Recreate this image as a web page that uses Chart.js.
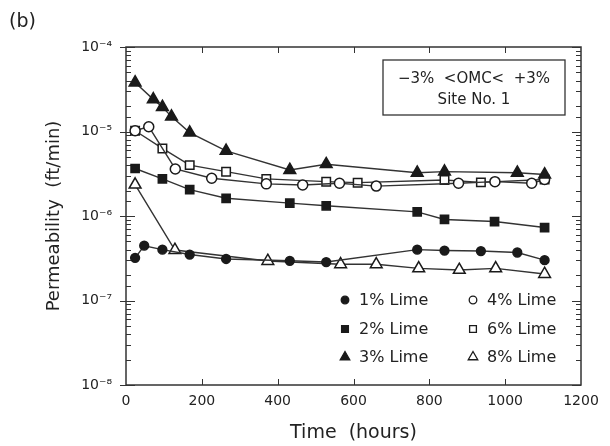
<!DOCTYPE html>
<html>
<head>
<meta charset="utf-8">
<script src="https://cdn.jsdelivr.net/npm/chart.js@4.4.1/dist/chart.umd.min.js"></script>
<style>
  html, body { margin: 0; padding: 0; background: #fff; }
  #wrap { position: relative; width: 610px; height: 446px; }
</style>
</head>
<body>
<div id="wrap"><canvas id="c" width="610" height="446"></canvas></div>
<script>
// Permeability of lime-treated soil over time, one series per lime content
const seriesLabels = ['1% Lime', '2% Lime', '3% Lime', '4% Lime', '6% Lime', '8% Lime'];

const hours1 = [24, 48, 96, 168, 264, 432, 528, 768, 840, 936, 1032, 1104];
const perm1  = [3.2e-7, 4.45e-7, 4.0e-7, 3.5e-7, 3.1e-7, 2.95e-7, 2.85e-7, 4.0e-7, 3.9e-7, 3.85e-7, 3.7e-7, 3.0e-7];

const hours2 = [24, 96, 168, 264, 432, 528, 768, 840, 972, 1104];
const perm2  = [3.65e-6, 2.75e-6, 2.05e-6, 1.62e-6, 1.42e-6, 1.32e-6, 1.12e-6, 9.1e-7, 8.6e-7, 7.3e-7];

const hours3 = [24, 72, 96, 120, 168, 264, 432, 528, 768, 840, 1032, 1104];
const perm3  = [3.8e-5, 2.4e-5, 1.95e-5, 1.5e-5, 9.7e-6, 5.9e-6, 3.5e-6, 4.1e-6, 3.25e-6, 3.35e-6, 3.25e-6, 3.1e-6];

const hours4 = [24, 60, 130, 226, 370, 466, 563, 660, 877, 973, 1070, 1104];
const perm4  = [1.02e-5, 1.14e-5, 3.6e-6, 2.8e-6, 2.4e-6, 2.33e-6, 2.44e-6, 2.26e-6, 2.44e-6, 2.55e-6, 2.44e-6, 2.7e-6];

const hours6 = [24, 96, 168, 264, 370, 528, 611, 840, 936, 1104];
const perm6  = [1.02e-5, 6.3e-6, 4.0e-6, 3.35e-6, 2.75e-6, 2.55e-6, 2.48e-6, 2.67e-6, 2.5e-6, 2.7e-6];

const hours8 = [24, 129, 374, 566, 660, 772, 879, 975, 1104];
const perm8  = [2.35e-6, 3.96e-7, 2.93e-7, 2.68e-7, 2.68e-7, 2.4e-7, 2.3e-7, 2.4e-7, 2.06e-7];

const xTickValues = [0, 200, 400, 600, 800, 1000, 1200];
const panelLabel = '(b)';
const noteLines = ['\u22123%  <OMC<  +3%', 'Site No. 1'];

const INK = '#222222';
const LINE = '#333333';
const FONT = '"DejaVu Sans", sans-serif';

const SUP = {'-': '\u207B', '0': '\u2070', '1': '\u00B9', '2': '\u00B2', '3': '\u00B3', '4': '\u2074',
             '5': '\u2075', '6': '\u2076', '7': '\u2077', '8': '\u2078', '9': '\u2079'};
const toSup = n => String(n).split('').map(ch => SUP[ch]).join('');
const isDecade = v => { const l = Math.log10(v); return Math.abs(l - Math.round(l)) < 1e-9; };

const pairs = (xs, ys) => xs.map((h, i) => ({ x: h, y: ys[i] }));

function series(label, xs, ys, style, filled, radius) {
  return {
    label,
    data: pairs(xs, ys),
    borderColor: LINE,
    borderWidth: 1.4,
    pointStyle: style,
    pointRadius: radius,
    pointHoverRadius: radius,
    pointBackgroundColor: filled ? '#1a1a1a' : '#ffffff',
    pointBorderColor: '#1a1a1a',
    pointBorderWidth: 1.5,
    fill: false,
    tension: 0
  };
}

const datasets = [
  series(seriesLabels[0], hours1, perm1, 'circle', true, 4.4),
  series(seriesLabels[1], hours2, perm2, 'rect', true, 5.8),
  series(seriesLabels[2], hours3, perm3, 'triangle', true, 6.8),
  series(seriesLabels[3], hours4, perm4, 'circle', false, 5),
  series(seriesLabels[4], hours6, perm6, 'rect', false, 6),
  series(seriesLabels[5], hours8, perm8, 'triangle', false, 6.8)
];

// Frame with inward tick marks on all four sides
const frameTicks = {
  id: 'frameTicks',
  beforeDatasetsDraw(chart) {
    const { ctx, chartArea: a, scales: { x, y } } = chart;
    ctx.save();
    ctx.strokeStyle = LINE;
    ctx.lineWidth = 1.5;
    ctx.strokeRect(a.left, a.top, a.right - a.left, a.bottom - a.top);
    ctx.lineWidth = 1;
    const seg = (x1, y1, x2, y2) => { ctx.beginPath(); ctx.moveTo(x1, y1); ctx.lineTo(x2, y2); ctx.stroke(); };
    y.ticks.forEach(t => {
      const py = Math.round(y.getPixelForValue(t.value)) + 0.5;
      const major = isDecade(t.value);
      const len = major ? 9 : 5;
      seg(a.left, py, a.left + len, py);
      seg(a.right, py, a.right - len, py);
      if (major) seg(a.left - 6, py, a.left, py);
    });
    x.ticks.forEach(t => {
      if (t.value <= x.min || t.value >= x.max) return;
      const px = Math.round(x.getPixelForValue(t.value)) + 0.5;
      seg(px, a.top, px, a.top + 6);
      seg(px, a.bottom, px, a.bottom - 6);
    });
    ctx.restore();
  }
};

// Two-column key, the site note and the panel letter
const annotations = {
  id: 'annotations',
  afterDraw(chart) {
    const { ctx, chartArea: a } = chart;
    ctx.save();
    ctx.fillStyle = INK;
    ctx.font = '19px ' + FONT;
    ctx.textAlign = 'left';
    ctx.textBaseline = 'middle';
    ctx.fillText(panelLabel, 9, 22);

    // note box
    const bx = a.left + 257, by = a.top + 13, bw = 182, bh = 55;
    ctx.strokeStyle = LINE;
    ctx.lineWidth = 1.3;
    ctx.strokeRect(bx, by, bw, bh);
    ctx.font = '15px ' + FONT;
    ctx.textAlign = 'center';
    ctx.fillText(noteLines[0], bx + bw / 2, by + 19);
    ctx.fillText(noteLines[1], bx + bw / 2, by + 40);

    // key
    const order = [[0, 1, 2], [3, 4, 5]];
    const colX = [a.left + 219, a.left + 347];
    const rowY = [a.top + 253, a.top + 282, a.top + 310];
    ctx.font = '16px ' + FONT;
    ctx.textAlign = 'left';
    order.forEach((col, ci) => {
      col.forEach((di, ri) => {
        const ds = chart.data.datasets[di];
        const mx = colX[ci], my = rowY[ri];
        ctx.fillStyle = ds.pointBackgroundColor;
        ctx.strokeStyle = ds.pointBorderColor;
        ctx.lineWidth = 1.3;
        const r = ds.pointStyle === 'triangle' ? 5.5 : (ds.pointStyle === 'rect' ? 4.8 : 3.8);
        Chart.helpers.drawPoint(ctx, { pointStyle: ds.pointStyle, radius: r, rotation: 0, borderWidth: 1.3 }, mx, my);
        ctx.fillStyle = INK;
        ctx.fillText(ds.label, mx + 14, my + 1);
      });
    });
    ctx.restore();
  }
};

new Chart(document.getElementById('c'), {
  type: 'line',
  data: { datasets },
  plugins: [frameTicks, annotations],
  options: {
    responsive: false,
    animation: false,
    devicePixelRatio: 1,
    layout: { padding: { top: 47, right: 29, left: 0, bottom: 0 } },
    plugins: { legend: { display: false }, tooltip: { enabled: false } },
    scales: {
      x: {
        type: 'linear',
        min: 0,
        max: 1200,
        afterFit: s => { s.height = 61; },
        afterBuildTicks: s => { s.ticks = xTickValues.map(v => ({ value: v })); },
        grid: { display: false, drawTicks: false },
        border: { display: false },
        ticks: { color: INK, font: { family: FONT, size: 14 }, padding: 8, maxRotation: 0, callback: v => String(v) },
        title: { display: true, text: 'Time  (hours)', color: INK, font: { family: FONT, size: 19 }, padding: { top: 0, bottom: 2 } }
      },
      y: {
        type: 'logarithmic',
        min: 1e-8,
        max: 1e-4,
        afterFit: s => { s.width = 126; },
        grid: { display: false, drawTicks: false },
        border: { display: false },
        ticks: {
          autoSkip: false,
          color: INK,
          font: { family: FONT, size: 14 },
          padding: 14,
          callback: v => isDecade(v) ? '10' + toSup(Math.round(Math.log10(v))) : ''
        },
        title: { display: true, text: 'Permeability  (ft/min)', color: INK, font: { family: FONT, size: 18 }, padding: { top: 44, bottom: 0 } }
      }
    }
  }
});
</script>
</body>
</html>
